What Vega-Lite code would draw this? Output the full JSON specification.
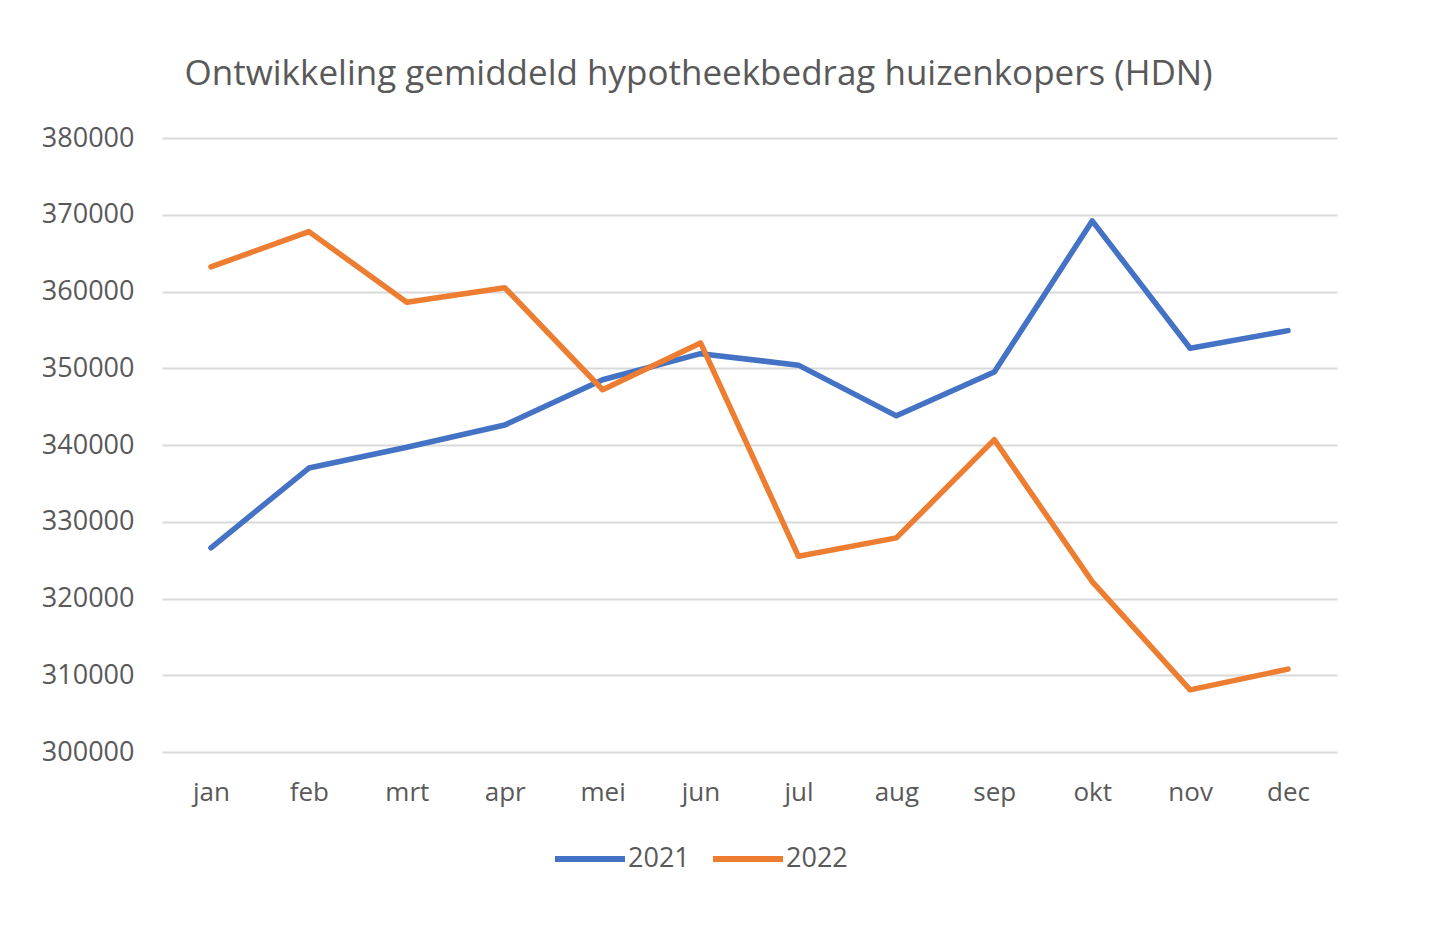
{
  "$schema": "https://vega.github.io/schema/vega-lite/v6.json",
  "autosize": "none",
  "width": 1175,
  "height": 614,
  "padding": {"left": 162, "top": 138, "right": 103, "bottom": 198},
  "background": "white",
  "title": {
    "text": "Ontwikkeling gemiddeld hypotheekbedrag huizenkopers (HDN)",
    "font": "Open Sans",
    "fontSize": 35,
    "fontWeight": "normal",
    "color": "#595959",
    "anchor": "middle",
    "frame": "group",
    "baseline": "alphabetic",
    "offset": 4,
    "dx": -51
  },
  "data": {
    "values": [
      {"maand": "jan", "jaar": "2021", "bedrag": 326600},
      {"maand": "feb", "jaar": "2021", "bedrag": 337000},
      {"maand": "mrt", "jaar": "2021", "bedrag": 339700},
      {"maand": "apr", "jaar": "2021", "bedrag": 342600},
      {"maand": "mei", "jaar": "2021", "bedrag": 348500},
      {"maand": "jun", "jaar": "2021", "bedrag": 351900},
      {"maand": "jul", "jaar": "2021", "bedrag": 350400},
      {"maand": "aug", "jaar": "2021", "bedrag": 343800},
      {"maand": "sep", "jaar": "2021", "bedrag": 349500},
      {"maand": "okt", "jaar": "2021", "bedrag": 369200},
      {"maand": "nov", "jaar": "2021", "bedrag": 352600},
      {"maand": "dec", "jaar": "2021", "bedrag": 354900},
      {"maand": "jan", "jaar": "2022", "bedrag": 363200},
      {"maand": "feb", "jaar": "2022", "bedrag": 367800},
      {"maand": "mrt", "jaar": "2022", "bedrag": 358600},
      {"maand": "apr", "jaar": "2022", "bedrag": 360500},
      {"maand": "mei", "jaar": "2022", "bedrag": 347200},
      {"maand": "jun", "jaar": "2022", "bedrag": 353300},
      {"maand": "jul", "jaar": "2022", "bedrag": 325500},
      {"maand": "aug", "jaar": "2022", "bedrag": 327900},
      {"maand": "sep", "jaar": "2022", "bedrag": 340700},
      {"maand": "okt", "jaar": "2022", "bedrag": 322200},
      {"maand": "nov", "jaar": "2022", "bedrag": 308100},
      {"maand": "dec", "jaar": "2022", "bedrag": 310800}
    ]
  },
  "mark": {"type": "line", "strokeWidth": 5.5, "strokeCap": "round", "strokeJoin": "round"},
  "encoding": {
    "x": {
      "field": "maand",
      "type": "ordinal",
      "sort": ["jan", "feb", "mrt", "apr", "mei", "jun", "jul", "aug", "sep", "okt", "nov", "dec"],
      "scale": {"type": "point", "padding": 0.5},
      "axis": {
        "title": null,
        "domain": false,
        "ticks": false,
        "tickSize": 0,
        "grid": false,
        "labelAngle": 0,
        "labelPadding": 27,
        "labelFont": "Open Sans",
        "labelFontSize": 26,
        "labelColor": "#595959"
      }
    },
    "y": {
      "field": "bedrag",
      "type": "quantitative",
      "scale": {"domain": [300000, 380000], "zero": false, "nice": false},
      "axis": {
        "title": null,
        "values": [300000, 310000, 320000, 330000, 340000, 350000, 360000, 370000, 380000],
        "format": "d",
        "domain": false,
        "ticks": false,
        "tickSize": 0,
        "labelPadding": 28,
        "labelFont": "Open Sans",
        "labelFontSize": 27,
        "labelColor": "#595959",
        "gridColor": "#d9d9d9",
        "gridWidth": 2
      }
    },
    "color": {
      "field": "jaar",
      "type": "nominal",
      "scale": {"domain": ["2021", "2022"], "range": ["#4472C4", "#ED7D31"]},
      "legend": {
        "title": null,
        "orient": "none",
        "direction": "horizontal",
        "legendX": 390,
        "legendY": 683,
        "padding": 0,
        "symbolType": "stroke",
        "symbolSize": 4900,
        "symbolStrokeWidth": 6,
        "labelOffset": 0,
        "columnPadding": 11,
        "labelFont": "Open Sans",
        "labelFontSize": 27,
        "labelColor": "#595959"
      }
    }
  },
  "config": {
    "view": {"stroke": null}
  }
}
